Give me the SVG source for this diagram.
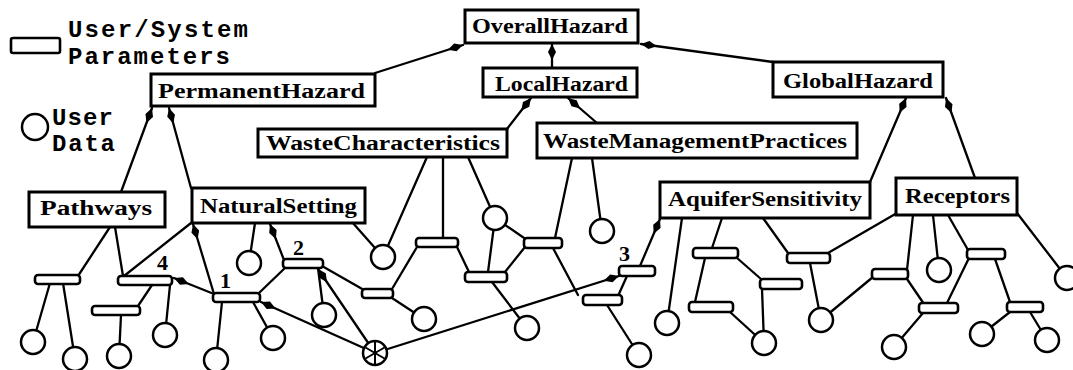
<svg xmlns="http://www.w3.org/2000/svg" width="1073" height="370" viewBox="0 0 1073 370">
<style>
.box{fill:#fff;stroke:#000;stroke-width:3}
.lbl{font-family:"Liberation Serif",serif;font-weight:bold;font-size:20px;fill:#000}
.bar{fill:#fff;stroke:#000;stroke-width:2.6}
.dat{fill:#fff;stroke:#000;stroke-width:2.5}
.ln{stroke:#000;stroke-width:2.3;fill:none;stroke-linecap:round}
.ar{marker-end:url(#arr)}
.num{font-family:"Liberation Serif",serif;font-weight:bold;font-size:22px;fill:#000}
.leg{font-family:"Liberation Mono",monospace;font-weight:bold;font-size:24px;fill:#000}
</style>
<defs>
<marker id="arr" viewBox="0 0 16 9" refX="16" refY="4.5" markerWidth="16" markerHeight="9" markerUnits="userSpaceOnUse" orient="auto">
<path d="M0,4.5 L8,0.5 L16,4.5 L8,8.5 Z" fill="#000"/>
</marker>
</defs>
<rect width="1073" height="370" fill="#fff"/>

<g id="legend">
<rect x="11" y="38" width="49" height="15" rx="2" class="bar" stroke-width="3"/>
<text x="68" y="37" class="leg" textLength="180" lengthAdjust="spacing">User/System</text>
<text x="68" y="64" class="leg" textLength="162" lengthAdjust="spacing">Parameters</text>
<circle cx="35" cy="127" r="13" class="dat"/>
<text x="52" y="125" class="leg" textLength="61" lengthAdjust="spacing">User</text>
<text x="52" y="151" class="leg" textLength="63" lengthAdjust="spacing">Data</text>
</g>

<g id="connectors">
<line class="ln ar" x1="375" y1="73" x2="463" y2="45"/>
<line class="ln ar" x1="552" y1="68" x2="552" y2="44"/>
<line class="ln ar" x1="773" y1="62" x2="641" y2="44"/>
<line class="ln ar" x1="121" y1="192" x2="152" y2="108"/>
<line class="ln ar" x1="191" y1="188" x2="169" y2="108"/>
<line class="ln ar" x1="507" y1="129" x2="531" y2="98"/>
<line class="ln ar" x1="597" y1="123" x2="568" y2="98"/>
<line class="ln ar" x1="870" y1="182" x2="906" y2="98"/>
<line class="ln ar" x1="975" y1="178" x2="946" y2="98"/>
<line class="ln ar" x1="214" y1="294" x2="193" y2="224"/>
<line class="ln ar" x1="214" y1="294" x2="174" y2="278"/>
<line class="ln ar" x1="284" y1="260" x2="270" y2="224"/>
<line class="ln ar" x1="640" y1="266" x2="660" y2="219"/>
<line class="ln ar" x1="375" y1="353" x2="261" y2="302"/>
<line class="ln ar" x1="375" y1="353" x2="318" y2="269"/>
<line class="ln ar" x1="375" y1="353" x2="619" y2="276"/>

<line class="ln" x1="110" y1="227" x2="78" y2="276"/>
<line class="ln" x1="115" y1="227" x2="123" y2="276"/>
<line class="ln" x1="191" y1="223" x2="124" y2="276"/>
<line class="ln" x1="50" y1="283" x2="33" y2="342"/>
<line class="ln" x1="63" y1="283" x2="75" y2="359"/>
<line class="ln" x1="152" y1="285" x2="138" y2="306"/>
<line class="ln" x1="170" y1="285" x2="165" y2="335"/>
<line class="ln" x1="121" y1="315" x2="119" y2="356"/>
<line class="ln" x1="222" y1="302" x2="216" y2="360"/>
<line class="ln" x1="253" y1="302" x2="273" y2="338"/>
<line class="ln" x1="259" y1="293" x2="286" y2="267"/>
<line class="ln" x1="255" y1="223" x2="249" y2="263"/>
<line class="ln" x1="318" y1="268" x2="324" y2="315"/>
<line class="ln" x1="322" y1="266" x2="364" y2="290"/>
<line class="ln" x1="352" y1="222" x2="383" y2="257"/>
<line class="ln" x1="427" y1="157" x2="383" y2="257"/>
<line class="ln" x1="443" y1="157" x2="443" y2="238"/>
<line class="ln" x1="468" y1="157" x2="495" y2="218"/>
<line class="ln" x1="392" y1="289" x2="417" y2="247"/>
<line class="ln" x1="392" y1="298" x2="424" y2="319"/>
<line class="ln" x1="457" y1="247" x2="469" y2="272"/>
<line class="ln" x1="495" y1="218" x2="488" y2="272"/>
<line class="ln" x1="495" y1="218" x2="527" y2="240"/>
<line class="ln" x1="505" y1="272" x2="525" y2="247"/>
<line class="ln" x1="492" y1="282" x2="527" y2="328"/>
<line class="ln" x1="572" y1="158" x2="555" y2="238"/>
<line class="ln" x1="592" y1="158" x2="602" y2="231"/>
<line class="ln" x1="553" y1="248" x2="578" y2="295"/>
<line class="ln" x1="627" y1="276" x2="618" y2="296"/>
<line class="ln" x1="607" y1="305" x2="639" y2="355"/>
<line class="ln" x1="682" y1="218" x2="667" y2="323"/>
<line class="ln" x1="722" y1="218" x2="712" y2="248"/>
<line class="ln" x1="705" y1="258" x2="695" y2="302"/>
<line class="ln" x1="737" y1="258" x2="761" y2="279"/>
<line class="ln" x1="762" y1="289" x2="764" y2="343"/>
<line class="ln" x1="730" y1="312" x2="764" y2="343"/>
<line class="ln" x1="763" y1="218" x2="788" y2="253"/>
<line class="ln" x1="897" y1="213" x2="828" y2="253"/>
<line class="ln" x1="810" y1="263" x2="821" y2="320"/>
<line class="ln" x1="821" y1="320" x2="873" y2="277"/>
<line class="ln" x1="913" y1="215" x2="907" y2="270"/>
<line class="ln" x1="933" y1="215" x2="939" y2="270"/>
<line class="ln" x1="907" y1="279" x2="924" y2="304"/>
<line class="ln" x1="923" y1="313" x2="894" y2="347"/>
<line class="ln" x1="947" y1="303" x2="969" y2="258"/>
<line class="ln" x1="948" y1="215" x2="968" y2="250"/>
<line class="ln" x1="995" y1="259" x2="1010" y2="302"/>
<line class="ln" x1="1010" y1="312" x2="982" y2="334"/>
<line class="ln" x1="1030" y1="312" x2="1047" y2="340"/>
<line class="ln" x1="1017" y1="213" x2="1067" y2="278"/>
</g>

<g id="OverallHazard"><rect class="box" x="465" y="10" width="173" height="33"/><text class="lbl" x="472" y="33" textLength="156" lengthAdjust="spacingAndGlyphs">OverallHazard</text></g>
<g id="PermanentHazard"><rect class="box" x="151" y="74" width="224" height="32"/><text class="lbl" x="158" y="98" textLength="207" lengthAdjust="spacingAndGlyphs">PermanentHazard</text></g>
<g id="LocalHazard"><rect class="box" x="483" y="68" width="154" height="29"/><text class="lbl" x="495" y="91" textLength="133" lengthAdjust="spacingAndGlyphs">LocalHazard</text></g>
<g id="GlobalHazard"><rect class="box" x="773" y="62" width="170" height="35"/><text class="lbl" x="783" y="88" textLength="150" lengthAdjust="spacingAndGlyphs">GlobalHazard</text></g>
<g id="WasteCharacteristics"><rect class="box" x="258" y="129" width="249" height="28"/><text class="lbl" x="266" y="150" textLength="234" lengthAdjust="spacingAndGlyphs">WasteCharacteristics</text></g>
<g id="WasteManagementPractices"><rect class="box" x="537" y="123" width="320" height="35"/><text class="lbl" x="543" y="148" textLength="304" lengthAdjust="spacingAndGlyphs">WasteManagementPractices</text></g>
<g id="Pathways"><rect class="box" x="29" y="192" width="136" height="35"/><text class="lbl" x="40" y="215" textLength="112" lengthAdjust="spacingAndGlyphs">Pathways</text></g>
<g id="NaturalSetting"><rect class="box" x="192" y="188" width="173" height="35"/><text class="lbl" x="200" y="213" textLength="157" lengthAdjust="spacingAndGlyphs">NaturalSetting</text></g>
<g id="AquiferSensitivity"><rect class="box" x="660" y="182" width="210" height="36"/><text class="lbl" x="668" y="206" textLength="194" lengthAdjust="spacingAndGlyphs">AquiferSensitivity</text></g>
<g id="Receptors"><rect class="box" x="896" y="178" width="121" height="37"/><text class="lbl" x="905" y="203" textLength="105" lengthAdjust="spacingAndGlyphs">Receptors</text></g>

<g id="param-A"><rect class="bar" x="35" y="275" width="45" height="9" rx="3"/></g>
<g id="param-B"><rect class="bar" x="118" y="276" width="54" height="9" rx="3"/></g>
<g id="param-C"><rect class="bar" x="92" y="306" width="48" height="9" rx="3"/></g>
<g id="param-1"><rect class="bar" x="213" y="293" width="47" height="9" rx="3"/></g>
<g id="param-2"><rect class="bar" x="283" y="259" width="40" height="9" rx="3"/></g>
<g id="param-F"><rect class="bar" x="362" y="289" width="31" height="9" rx="3"/></g>
<g id="param-G"><rect class="bar" x="416" y="238" width="42" height="9" rx="3"/></g>
<g id="param-H"><rect class="bar" x="465" y="272" width="42" height="10" rx="3"/></g>
<g id="param-I"><rect class="bar" x="524" y="238" width="38" height="10" rx="3"/></g>
<g id="param-3"><rect class="bar" x="619" y="266" width="36" height="10" rx="3"/></g>
<g id="param-J"><rect class="bar" x="583" y="295" width="39" height="10" rx="3"/></g>
<g id="param-K"><rect class="bar" x="693" y="248" width="45" height="10" rx="3"/></g>
<g id="param-L"><rect class="bar" x="760" y="279" width="42" height="10" rx="3"/></g>
<g id="param-M"><rect class="bar" x="689" y="302" width="44" height="10" rx="3"/></g>
<g id="param-N"><rect class="bar" x="787" y="253" width="43" height="10" rx="3"/></g>
<g id="param-O"><rect class="bar" x="872" y="269" width="36" height="10" rx="3"/></g>
<g id="param-P"><rect class="bar" x="919" y="303" width="39" height="10" rx="3"/></g>
<g id="param-Q"><rect class="bar" x="967" y="249" width="38" height="10" rx="3"/></g>
<g id="param-R"><rect class="bar" x="1007" y="302" width="36" height="10" rx="3"/></g>

<g id="data-1"><circle class="dat" cx="33" cy="342" r="12"/></g>
<g id="data-2"><circle class="dat" cx="75" cy="359" r="12"/></g>
<g id="data-3"><circle class="dat" cx="119" cy="356" r="12"/></g>
<g id="data-4"><circle class="dat" cx="165" cy="335" r="12"/></g>
<g id="data-5"><circle class="dat" cx="216" cy="360" r="12"/></g>
<g id="data-6"><circle class="dat" cx="273" cy="338" r="12"/></g>
<g id="data-7"><circle class="dat" cx="249" cy="263" r="12"/></g>
<g id="data-8"><circle class="dat" cx="324" cy="315" r="12"/></g>
<g id="data-9"><circle class="dat" cx="383" cy="257" r="12"/></g>
<g id="data-10"><circle class="dat" cx="424" cy="319" r="12"/></g>
<g id="data-11"><circle class="dat" cx="495" cy="218" r="12"/></g>
<g id="data-12"><circle class="dat" cx="527" cy="328" r="12"/></g>
<g id="data-13"><circle class="dat" cx="602" cy="231" r="12"/></g>
<g id="data-14"><circle class="dat" cx="639" cy="355" r="12"/></g>
<g id="data-15"><circle class="dat" cx="667" cy="323" r="12"/></g>
<g id="data-16"><circle class="dat" cx="764" cy="343" r="12"/></g>
<g id="data-17"><circle class="dat" cx="821" cy="320" r="12"/></g>
<g id="data-18"><circle class="dat" cx="939" cy="270" r="12"/></g>
<g id="data-19"><circle class="dat" cx="894" cy="347" r="12"/></g>
<g id="data-20"><circle class="dat" cx="982" cy="334" r="12"/></g>
<g id="data-21"><circle class="dat" cx="1047" cy="340" r="12"/></g>
<g id="data-22"><circle class="dat" cx="1067" cy="278" r="12"/></g>

<g id="source">
<circle class="dat" cx="375" cy="353" r="12"/>
<g stroke="#000" stroke-width="2">
<line x1="375" y1="342" x2="375" y2="364"/>
<line x1="365.5" y1="347.5" x2="384.5" y2="358.5"/>
<line x1="365.5" y1="358.5" x2="384.5" y2="347.5"/>
</g>
</g>

<g id="labels">
<text class="num" x="157" y="270">4</text>
<text class="num" x="220" y="288">1</text>
<text class="num" x="293" y="255">2</text>
<text class="num" x="619" y="261">3</text>
</g>
</svg>
